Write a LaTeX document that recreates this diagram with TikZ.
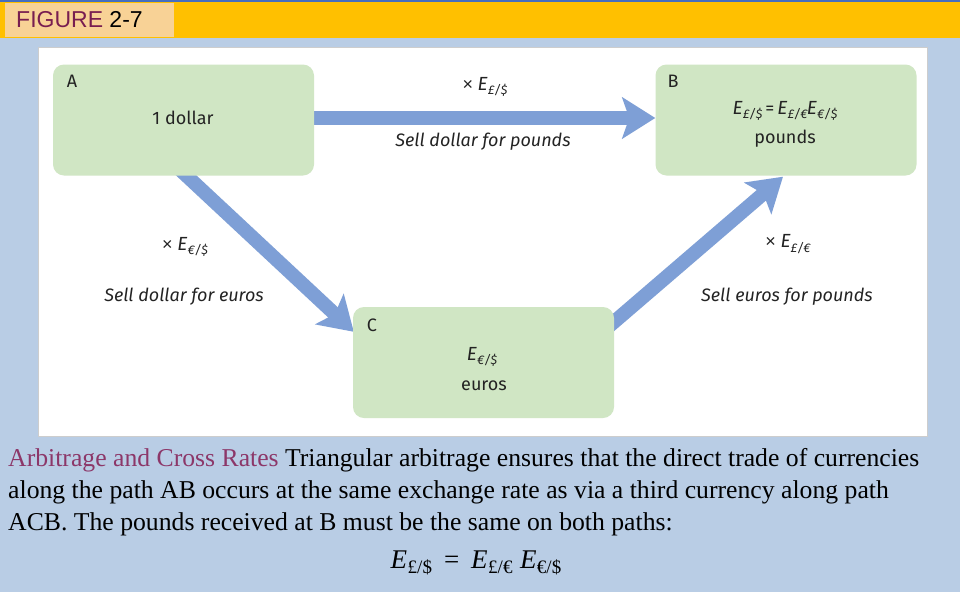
\documentclass[tikz,border=0pt]{standalone}
\usepackage{fontspec}
\setmainfont{Liberation Serif}
\newfontfamily\fira{Fira Sans}
\newfontfamily\arial{Liberation Sans}
\usetikzlibrary{arrows.meta,calc}
\pgfdeclarelayer{bg}
\pgfdeclarelayer{arrowlayer}
\pgfsetlayers{bg,arrowlayer,main}
\definecolor{bgblue}{RGB}{185,205,229}
\definecolor{topline}{RGB}{70,110,190}
\definecolor{barorange}{RGB}{255,192,0}
\definecolor{tagpeach}{RGB}{248,210,150}
\definecolor{figmaroon}{RGB}{120,30,80}
\definecolor{capmaroon}{RGB}{140,55,105}
\definecolor{boxgreen}{RGB}{208,230,196}
\definecolor{arrblue}{RGB}{126,159,214}
\definecolor{panelgray}{RGB}{205,205,205}
\definecolor{txt}{RGB}{35,35,35}
\newcommand{\Ex}[1]{{\fontsize{19}{19}\selectfont\textit{E}}\kern0.3pt\raisebox{-0.45ex}{\fontsize{12.5}{12.5}\selectfont #1}}
\newcommand{\Ecap}[1]{\textit{E}\kern0.5pt\raisebox{-0.45ex}{\fontsize{19}{19}\selectfont #1}}
\newcommand{\tms}{{\arial\upshape ×}}
\begin{document}
\begin{tikzpicture}[x=1pt,y=-1pt,
  box/.style={draw=none,fill=boxgreen,rounded corners=11pt,minimum width=261pt,minimum height=111pt,inner sep=0pt},
  dtext/.style={font=\fira\fontsize{18}{21}\selectfont,text=txt,inner sep=0pt},
  dital/.style={font=\fira\itshape\fontsize{18}{21}\selectfont,text=txt,inner sep=0pt},
  arr/.style={draw=arrblue,line width=14pt,-{Stealth[length=33pt,width=41pt,inset=7pt]}},
  captext/.style={font=\fontsize{25.7}{32}\selectfont,anchor=base west,inner sep=0pt}
]
\useasboundingbox (0,0) rectangle (960,592);
\begin{pgfonlayer}{bg}
\fill[bgblue] (0,0) rectangle (960,592);
\fill[topline] (0,0) rectangle (960,2);
\fill[barorange] (0,2) rectangle (960,38);
\node[draw=panelgray,line width=1.5pt,fill=white,minimum width=889pt,minimum height=389pt,inner sep=0pt,anchor=north west] (panel) at (37.5,46.5) {};
\end{pgfonlayer}
\node[fill=tagpeach,minimum width=169pt,minimum height=34pt,inner sep=0pt,anchor=north west] (tag) at (5,3) {};
\node[font=\arial\fontsize{23}{24}\selectfont,anchor=west,inner sep=0pt] (figlabel) at (16,19.5) {\textcolor{figmaroon}{FIGURE} 2-7};
% boxes
\node[box] (A) at (183.5,120) {};
\node[box] (B) at (786,120) {};
\node[box] (C) at (483.5,362.5) {};
% box texts
\node[dtext] (Alab) at (72,81) {A};
\node[dtext] (Atext) at (183,118) {1 dollar};
\node[dtext] (Blab) at (673,81) {B};
\node[dital] (Bform) at (785,111) {\Ex{£/\$}\,{\upshape=}\,\Ex{£/€}\kern-0.5pt\Ex{€/\$}};
\node[dtext] (Btext) at (785,139) {pounds};
\node[dtext] (Clab) at (372,325) {C};
\node[dital] (Cform) at (482,357) {\Ex{€/\$}};
\node[dtext] (Ctext) at (484,386) {euros};
% arrows
\coordinate (abs) at ($(A.east)+(-10,-2)$);
\coordinate (abt) at ($(B.west)+(0,-2)$);
\coordinate (acs) at ($(A.south)+(3,0)$);
\coordinate (act) at ($(C.north west)+(1,25)$);
\coordinate (cbs) at ($(C.north east)+(0,15)$);
\coordinate (cbt) at ($(B.south)+(-3,1)$);
\begin{pgfonlayer}{arrowlayer}
\draw[arr] (abs) -- (abt);
\draw[arr] ($(acs)!-14pt!(act)$) -- (act);
\draw[arr] ($(cbs)!-14pt!(cbt)$) -- (cbt);
\end{pgfonlayer}
% arrow labels
\node[dital] (ABrate) at (485,87) {\tms\ \Ex{£/\$}};
\node[dital] (ABsell) at (483,142) {Sell dollar for pounds};
\node[dital] (ACrate) at (185,247) {\tms\ \Ex{€/\$}};
\node[dital] (ACsell) at (184,297) {Sell dollar for euros};
\node[dital] (CBrate) at (788,244) {\tms\ \Ex{£/€}};
\node[dital] (CBsell) at (787,297) {Sell euros for pounds};
% caption
\node[captext] (cap1) at (8,466) {\textcolor{capmaroon}{Arbitrage and Cross Rates} Triangular arbitrage ensures that the direct trade of currencies};
\node[captext] (cap2) at (8,498) {along the path AB occurs at the same exchange rate as via a third currency along path};
\node[captext] (cap3) at (8,530) {ACB. The pounds received at B must be the same on both paths:};
\node[font=\fontsize{27}{28}\selectfont,inner sep=0pt] (eq) at (476,563) {\Ecap{£/\$}\;\,=\;\,\Ecap{£/€}\;\Ecap{€/\$}};
\end{tikzpicture}
\end{document}
